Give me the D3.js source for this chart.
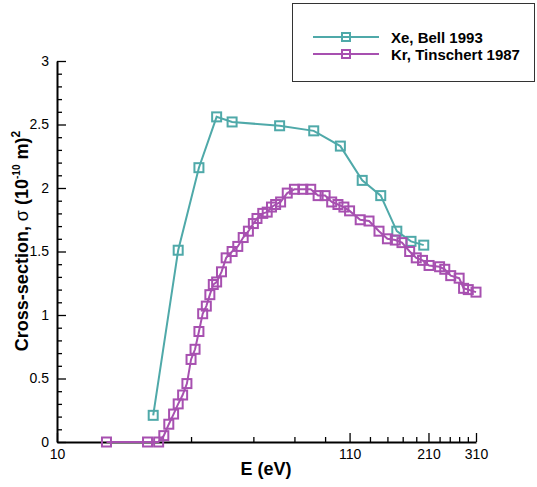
<!DOCTYPE html>
<html><head><meta charset="utf-8">
<script src="https://cdn.jsdelivr.net/npm/d3@7"></script>
<style>body{margin:0;background:#fff} svg{font-family:"Liberation Sans",Arial,Helvetica,sans-serif}</style>
</head><body><svg id="c" width="537" height="487"></svg>
<script>
// ---- data ----
const xeEnergy=[22,27,32,37,42,62,82,102,122,142,162,182,202];
const xeSigma=[0.21,1.51,2.16,2.56,2.52,2.49,2.45,2.33,2.06,1.94,1.66,1.58,1.55];
const krEnergy=[15,21,23,24,25,26,27,28,29,30,31,32,33,34,35,36,37,38.5,40,42,44,46,48,50,51.5,54,56,58,60,62.5,66,70,75,80,85,90,95,100,105,110,120,129,140,150,160,169,180,190,200,211,230,240,252,270,280,291,310];
const krSigma=[0,0,0,0.05,0.14,0.22,0.30,0.37,0.46,0.65,0.73,0.87,1.01,1.07,1.16,1.24,1.26,1.34,1.45,1.50,1.54,1.61,1.66,1.72,1.76,1.80,1.81,1.85,1.87,1.89,1.96,1.99,1.99,1.99,1.94,1.94,1.89,1.87,1.85,1.82,1.75,1.74,1.66,1.60,1.59,1.57,1.50,1.45,1.43,1.39,1.38,1.36,1.31,1.29,1.21,1.20,1.18];
const xTicks=[10,110,210,310];
const xMinorTicks=[30,50,70,90,130,150,170,190,230,250,270,290];
const yTicks=[0,0.5,1,1.5,2,2.5,3];
const yMinorTicks=[0.1,0.2,0.3,0.4,0.6,0.7,0.8,0.9,1.1,1.2,1.3,1.4,1.6,1.7,1.8,1.9,2.1,2.2,2.3,2.4,2.6,2.7,2.8,2.9];
const seriesNames=["Xe, Bell 1993","Kr, Tinschert 1987"];
const seriesColors=["#4fa9a9","#a750b0"];

const svg=d3.select("#c");
const x=d3.scaleLog().domain([10,310]).range([57,476]);
const y=d3.scaleLinear().domain([0,3]).range([442,61]);

// axes
const gx=svg.append("g").attr("transform","translate(0,442)");
gx.append("g").call(d3.axisBottom(x).tickValues(xMinorTicks).tickSizeInner(-5).tickSizeOuter(0).tickFormat(""))
  .call(g=>g.select(".domain").remove());
gx.append("g").call(d3.axisBottom(x).tickValues(xTicks).tickSizeInner(-9).tickSizeOuter(0).tickPadding(7).tickFormat(d3.format("d")))
  .call(g=>g.select(".domain").attr("stroke-width",2));
const gy=svg.append("g").attr("transform","translate(57,0)");
gy.append("g").call(d3.axisLeft(y).tickValues(yMinorTicks).tickSizeInner(-5).tickSizeOuter(0).tickFormat(""))
  .call(g=>g.select(".domain").remove());
gy.append("g").call(d3.axisLeft(y).tickValues(yTicks).tickSizeInner(-9).tickSizeOuter(0).tickPadding(8).tickFormat(d=>String(d)))
  .call(g=>g.select(".domain").attr("stroke-width",2));
svg.selectAll(".tick line").attr("stroke","#000").attr("stroke-width",1.3);
svg.selectAll(".tick text").attr("font-size",14).attr("fill","#000").attr("font-family","Liberation Sans, Arial, sans-serif");

// titles
svg.append("text").attr("x",266).attr("y",475).attr("text-anchor","middle")
  .attr("font-size",18).attr("font-weight","bold").text("E (eV)");
const yt=svg.append("text").attr("transform","translate(28,241) rotate(-90)").attr("text-anchor","middle")
  .attr("font-size",18).attr("font-weight","bold");
yt.append("tspan").text("Cross-section, ");
yt.append("tspan").attr("font-weight","normal").text("σ");
yt.append("tspan").text(" (10");
yt.append("tspan").attr("font-size",10).attr("dy",-8).text("-10");
yt.append("tspan").attr("dy",8).text(" m)");
yt.append("tspan").attr("font-size",12).attr("dy",-8).text("2");

// series
const series=[
  {e:xeEnergy,s:xeSigma,c:seriesColors[0]},
  {e:krEnergy,s:krSigma,c:seriesColors[1]}
];
const line=d3.line().x(d=>x(d[0])).y(d=>y(d[1]));
const ms=9;
series.forEach(sr=>{
  const pts=sr.e.map((e,i)=>[e,sr.s[i]]);
  svg.append("path").attr("d",line(pts)).attr("fill","none").attr("stroke",sr.c).attr("stroke-width",2);
  svg.append("g").selectAll("rect").data(pts).join("rect")
    .attr("x",d=>x(d[0])-ms/2).attr("y",d=>y(d[1])-ms/2).attr("width",ms).attr("height",ms)
    .attr("fill","none").attr("stroke",sr.c).attr("stroke-width",2);
});

// legend
svg.append("rect").attr("x",292.5).attr("y",3.5).attr("width",242).attr("height",78)
  .attr("fill","#fff").attr("stroke","#333").attr("stroke-width",1);
seriesNames.forEach((n,i)=>{
  const ly=37+i*17;
  svg.append("line").attr("x1",313).attr("x2",379).attr("y1",ly).attr("y2",ly).attr("stroke",seriesColors[i]).attr("stroke-width",2);
  svg.append("rect").attr("x",346-4).attr("y",ly-4).attr("width",8).attr("height",8)
    .attr("fill","none").attr("stroke",seriesColors[i]).attr("stroke-width",2);
  svg.append("text").attr("x",391).attr("y",ly+5.5).attr("font-size",15).attr("font-weight","bold").text(n);
});
</script></body></html>
